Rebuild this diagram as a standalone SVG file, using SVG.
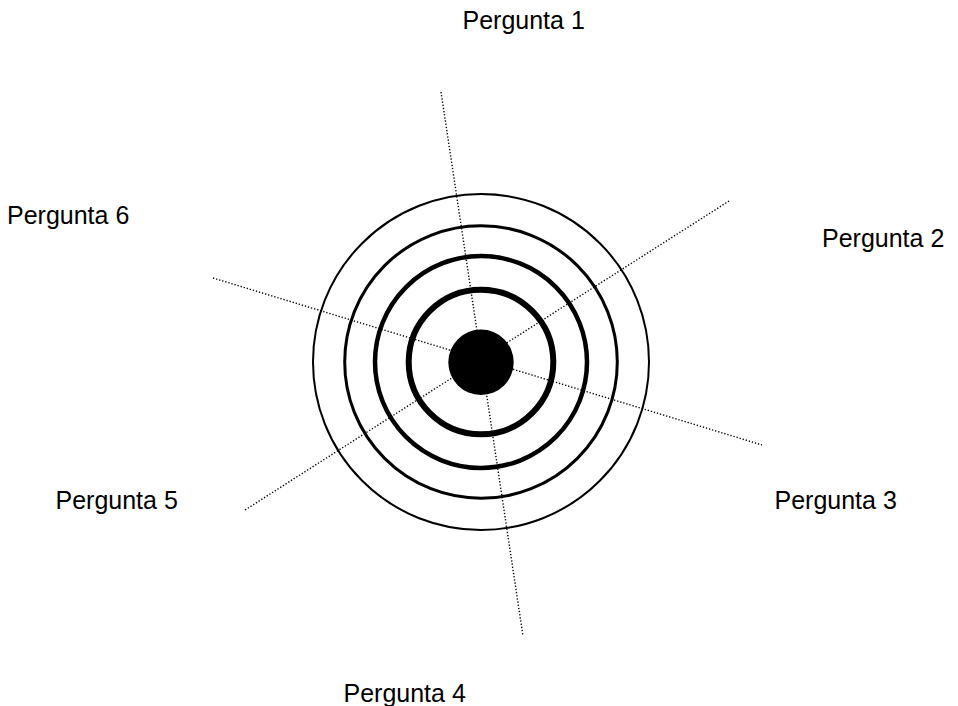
<svg xmlns="http://www.w3.org/2000/svg" width="958" height="706" viewBox="0 0 958 706">
<style>
.lbl{font-family:"Liberation Sans",Arial,sans-serif;font-size:25px;fill:#000}
.dot{stroke:#000;stroke-width:1.4;stroke-dasharray:1.3 1.9;fill:none}
.ring{fill:none;stroke:#000}
</style>
<rect width="958" height="706" fill="#fff"/>
<g id="connectors">
<line class="dot" x1="441" y1="92" x2="523" y2="636"/>
<line class="dot" x1="729" y1="201" x2="245" y2="510"/>
<line class="dot" x1="213" y1="278" x2="762" y2="445"/>
</g>
<g id="target">
<circle class="ring" cx="481" cy="362" r="168" stroke-width="2"/>
<circle class="ring" cx="481" cy="362" r="136.3" stroke-width="3"/>
<circle class="ring" cx="481" cy="362" r="106" stroke-width="4.5"/>
<circle class="ring" cx="481" cy="362" r="72.3" stroke-width="6"/>
<circle cx="481" cy="362.3" r="32.7" fill="#000"/>
</g>
<g id="p1"><text class="lbl" x="462.5" y="28.8">Pergunta 1</text></g>
<g id="p2"><text class="lbl" x="822" y="247">Pergunta 2</text></g>
<g id="p3"><text class="lbl" x="774.5" y="508.8">Pergunta 3</text></g>
<g id="p4"><text class="lbl" x="343.5" y="702">Pergunta 4</text></g>
<g id="p5"><text class="lbl" x="55.5" y="508.8">Pergunta 5</text></g>
<g id="p6"><text class="lbl" x="7" y="223.8">Pergunta 6</text></g>
</svg>
